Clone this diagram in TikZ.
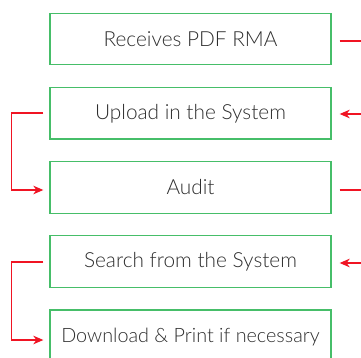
\documentclass[tikz,border=0pt]{standalone}
\usepackage{fontspec}
\setmainfont{Lato Light}
\usetikzlibrary{arrows.meta,calc}
\definecolor{boxgreen}{RGB}{70,190,105}
\definecolor{linkred}{RGB}{240,20,35}
\definecolor{txtgray}{RGB}{45,45,45}
\begin{document}
\begin{tikzpicture}[x=1pt,y=-1pt,
  stepbox/.style={draw=boxgreen,line width=1.3pt,minimum width=281pt,minimum height=51.5pt,
    inner sep=0pt,text=txtgray,font=\fontsize{20.8}{25}\selectfont},
  link/.style={draw=linkred,line width=1.6pt},
  tip/.style={-{Stealth[length=10pt,width=8.5pt,inset=3pt]}}]
\useasboundingbox (0,0) rectangle (361,358);
% process steps
\node[stepbox] (s1) at (190.5,39) {Receives PDF RMA};
\node[stepbox] (s2) at (190.5,113.3) {Upload in the System};
\node[stepbox] (s3) at (190.5,187.5) {Audit};
\node[stepbox] (s4) at (190.5,261.5) {Search from the System};
\node[stepbox,minimum height=54pt,font=\fontsize{19.8}{24}\selectfont] (s5) at (190.5,337) {Download \& Print if necessary};
% left-hand loops
\coordinate (l2) at ($(s2.west |- 0,113)+(-6,0)$);
\coordinate (l3) at ($(s3.west |- 0,190)+(-6,0)$);
\coordinate (l4) at ($(s4.west |- 0,262)+(-6,0)$);
\coordinate (l5) at ($(s5.west |- 0,340)+(-6,0)$);
\draw[link,tip] (l2) -- ++(-32,0) |- (l3);
\draw[link,tip] (l4) -- ++(-32,0) |- (l5);
% right-hand links running off the edge
\coordinate (r1) at ($(s1.east |- 0,41)+(8,0)$);
\coordinate (r2) at ($(s2.east |- 0,114)+(8,0)$);
\coordinate (r3) at ($(s3.east |- 0,190)+(8,0)$);
\coordinate (r4) at ($(s4.east |- 0,263)+(8,0)$);
\coordinate (e1) at (365,41);
\coordinate (e2) at (365,114);
\coordinate (e3) at (365,190);
\coordinate (e4) at (365,263);
\draw[link] (r1) -- (e1);
\draw[link,tip] (e2) -- (r2);
\draw[link] (r3) -- (e3);
\draw[link,tip] (e4) -- (r4);
\end{tikzpicture}
\end{document}
